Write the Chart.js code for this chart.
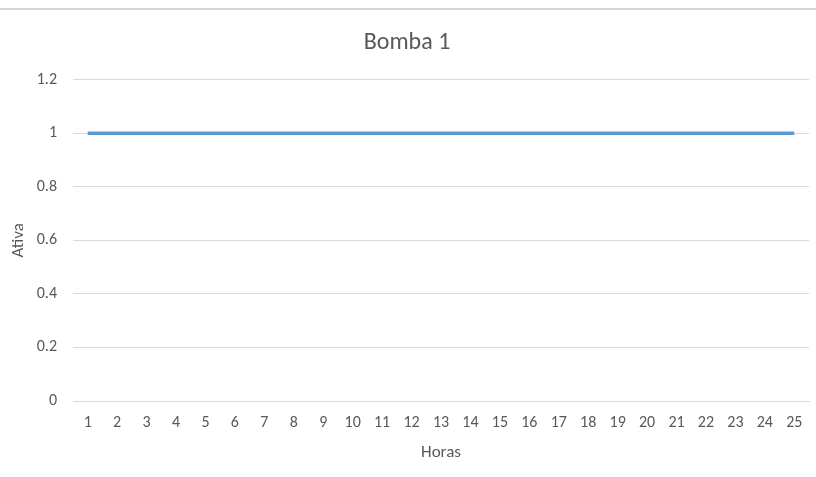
<!DOCTYPE html>
<html>
<head>
<meta charset="utf-8">
<script src="https://cdn.jsdelivr.net/npm/chart.js@4"></script>
<style>
  html, body { margin: 0; padding: 0; background: #ffffff; }
  #wrap { position: relative; width: 816px; height: 477px; }
</style>
</head>
<body>
<div id="wrap"><canvas id="chart" width="816" height="477"></canvas></div>
<script>
// Pump 1 on/off state per hour
const horas = ['1','2','3','4','5','6','7','8','9','10','11','12','13','14','15','16','17','18','19','20','21','22','23','24','25'];
const ativa = [1,1,1,1,1,1,1,1,1,1,1,1,1,1,1,1,1,1,1,1,1,1,1,1,1];
const yTicks = [0, 0.2, 0.4, 0.6, 0.8, 1, 1.2];

const FONT = "Calibri, Carlito, Lato, 'Liberation Sans', sans-serif";
const TEXT = '#595959';
const GRID = '#d9d9d9';

// page rule across the top of the sheet
const topRule = {
  id: 'topRule',
  beforeDraw(chart) {
    const ctx = chart.ctx;
    ctx.save();
    ctx.fillStyle = '#ffffff';
    ctx.fillRect(0, 0, chart.width, chart.height);
    ctx.fillStyle = '#d6d6d6';
    ctx.fillRect(0, 8, chart.width, 2);
    ctx.restore();
  }
};

new Chart(document.getElementById('chart'), {
  type: 'line',
  data: {
    labels: horas,
    datasets: [{
      label: 'Bomba 1',
      data: ativa,
      borderColor: '#5b9bd5',
      borderWidth: 3.5,
      pointRadius: 0,
      tension: 0,
      fill: false
    }]
  },
  options: {
    responsive: false,
    animation: false,
    layout: { padding: { left: 5, right: 7, top: 0, bottom: 10 } },
    plugins: {
      legend: { display: false },
      tooltip: { enabled: false },
      title: {
        display: true,
        text: 'Bomba 1',
        color: TEXT,
        font: { family: FONT, size: 24, weight: 'normal', lineHeight: 1.2 },
        padding: { top: 29, bottom: 22 }
      }
    },
    scales: {
      x: {
        type: 'category',
        offset: true,
        grid: { display: false, drawTicks: false },
        border: { display: true, color: GRID, width: 1 },
        ticks: {
          color: TEXT,
          font: { family: FONT, size: 16 },
          padding: 12,
          maxRotation: 0,
          autoSkip: false
        },
        title: {
          display: true,
          text: 'Horas',
          color: TEXT,
          font: { family: FONT, size: 17 },
          padding: { top: 4, bottom: 4 }
        },
        afterFit(scale) { scale.height = 66; }
      },
      y: {
        min: 0,
        max: 1.2,
        afterBuildTicks(scale) { scale.ticks = yTicks.map(v => ({ value: v })); },
        grid: { color: GRID, lineWidth: 1, drawTicks: false },
        border: { display: false },
        ticks: {
          color: TEXT,
          font: { family: FONT, size: 16 },
          padding: 16,
          callback: (v) => String(Math.round(v * 10) / 10)
        },
        title: {
          display: true,
          text: 'Ativa',
          color: TEXT,
          font: { family: FONT, size: 17 },
          padding: { top: 4, bottom: 0 }
        },
        afterFit(scale) { scale.width = 68; }
      }
    }
  },
  plugins: [topRule]
});
</script>
</body>
</html>
